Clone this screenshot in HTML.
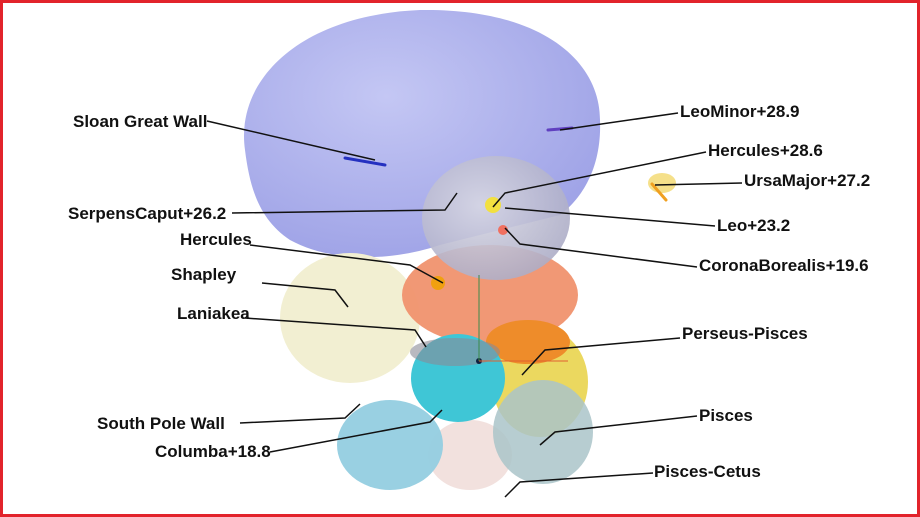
<!DOCTYPE html>
<html><head><style>
html,body{margin:0;padding:0;background:#fff}
#f{width:914px;height:511px;border:3px solid #e2232b;position:relative;overflow:hidden;background:#fff}
svg{position:absolute;left:-3px;top:-3px}
text{font-family:"Liberation Sans",sans-serif;font-weight:bold;font-size:17px;fill:#111}
</style></head><body><div id="f">
<svg width="920" height="517" viewBox="0 0 920 517">
<defs>
<radialGradient id="gb" cx="0.4" cy="0.35" r="0.7"><stop offset="0" stop-color="#c4c7f4"/><stop offset="1" stop-color="#9ea2e6"/></radialGradient>
<radialGradient id="gg" cx="0.4" cy="0.4" r="0.7"><stop offset="0" stop-color="#d8d8e4"/><stop offset="1" stop-color="#a9a9c4"/></radialGradient>
</defs>
<path d="M245 150 C235 80 300 15 420 10 C540 8 600 60 600 120 C602 170 580 200 560 215 L440 245 C390 262 330 262 290 240 C260 220 250 190 245 150 Z" fill="url(#gb)"/>
<ellipse cx="350" cy="318" rx="70" ry="65" fill="#f2efd2"/>
<ellipse cx="490" cy="295" rx="88" ry="50" fill="#f0926e" opacity="0.95"/>
<ellipse cx="496" cy="218" rx="74" ry="62" fill="url(#gg)" opacity="0.9"/>
<ellipse cx="540" cy="382" rx="48" ry="55" fill="#e9d44e" opacity="0.9"/>
<ellipse cx="528" cy="342" rx="42" ry="22" fill="#ee8c2a"/>
<ellipse cx="470" cy="455" rx="42" ry="35" fill="#efd9d6" opacity="0.8"/>
<ellipse cx="458" cy="378" rx="47" ry="44" fill="#3fc6d6"/>
<ellipse cx="455" cy="352" rx="45" ry="14" fill="#8a8a96" opacity="0.6"/>
<ellipse cx="390" cy="445" rx="53" ry="45" fill="#94cde0" opacity="0.95"/>
<ellipse cx="543" cy="432" rx="50" ry="52" fill="#aac4c9" opacity="0.85"/>
<ellipse cx="662" cy="183" rx="14" ry="10" fill="#f5e08a"/>
<g fill="none" stroke-width="3" stroke-linecap="round">
<path d="M345 158 L385 165" stroke="#2430c0"/>
<path d="M548 130 L572 128" stroke="#6040c0"/>
<path d="M652 184 L666 200" stroke="#f0a020"/>
</g>
<circle cx="493" cy="205" r="8" fill="#f2e040"/>
<circle cx="438" cy="283" r="7" fill="#f0a010"/>
<circle cx="503" cy="230" r="5" fill="#f07060"/>
<circle cx="479" cy="361" r="3" fill="#102040"/>
<line x1="479" y1="361" x2="479" y2="275" stroke="#3a8a4a"/>
<line x1="479" y1="361" x2="568" y2="361" stroke="#e06030"/>
<g stroke="#111" stroke-width="1.5" fill="none">
<path d="M207 121 L375 160"/>
<path d="M232 213 L445 210 L457 193"/>
<path d="M250 245 L410 265 L443 283"/>
<path d="M262 283 L335 290 L348 307"/>
<path d="M245 318 L415 330 L426 347"/>
<path d="M240 423 L345 418 L360 404"/>
<path d="M270 452 L430 422 L442 410"/>
<path d="M678 113 L560 130"/>
<path d="M706 152 L505 193 L493 207"/>
<path d="M742 183 L655 185"/>
<path d="M715 226 L505 208"/>
<path d="M697 267 L520 244 L505 228"/>
<path d="M680 338 L545 350 L522 375"/>
<path d="M697 416 L555 432 L540 445"/>
<path d="M653 473 L520 482 L505 497"/>
</g>
<text x="73" y="127">Sloan Great Wall</text>
<text x="68" y="219">SerpensCaput+26.2</text>
<text x="180" y="245">Hercules</text>
<text x="171" y="280">Shapley</text>
<text x="177" y="319">Laniakea</text>
<text x="97" y="429">South Pole Wall</text>
<text x="155" y="457">Columba+18.8</text>
<text x="680" y="117">LeoMinor+28.9</text>
<text x="708" y="156">Hercules+28.6</text>
<text x="744" y="186">UrsaMajor+27.2</text>
<text x="717" y="231">Leo+23.2</text>
<text x="699" y="271">CoronaBorealis+19.6</text>
<text x="682" y="339">Perseus-Pisces</text>
<text x="699" y="421">Pisces</text>
<text x="654" y="477">Pisces-Cetus</text>
</svg></div></body></html>
